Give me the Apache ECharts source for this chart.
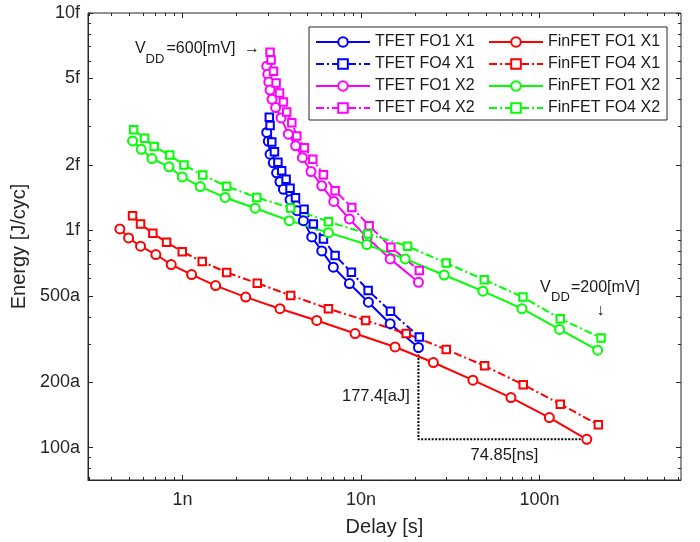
<!DOCTYPE html>
<html>
<head>
<meta charset="utf-8">
<script src="https://cdn.jsdelivr.net/npm/echarts@6/dist/echarts.min.js"></script>
<style>
    html, body { margin: 0; padding: 0; background: #fff; }
    #chart { width: 700px; height: 542px; }
</style>
</head>
<body>
<div id="chart"></div>
<script>
// delay in ns, energy in fJ per cycle, VDD sweep 600mV -> 200mV
const tfetFo1X1Delay = [2.96, 3.02, 3.09, 3.22, 3.36, 3.51, 3.67, 4.00, 4.38, 4.75, 5.29, 6.02, 6.99, 8.60, 10.99, 14.55, 20.96];
const tfetFo1X1Energy = [2.82, 2.57, 2.24, 2.045, 1.84, 1.673, 1.545, 1.383, 1.231, 1.108, 0.933, 0.804, 0.677, 0.569, 0.467, 0.372, 0.289];

const tfetFo4X1Delay = [3.06, 3.09, 3.16, 3.27, 3.42, 3.59, 3.80, 4.00, 4.29, 4.79, 5.40, 6.15, 7.15, 8.82, 10.95, 14.6, 21.2];
const tfetFo4X1Energy = [3.31, 3.04, 2.55, 2.30, 2.055, 1.88, 1.72, 1.562, 1.413, 1.251, 1.070, 0.913, 0.765, 0.642, 0.529, 0.424, 0.323];

const tfetFo1X2Delay = [2.96, 3.00, 3.04, 3.09, 3.17, 3.32, 3.56, 3.91, 4.30, 4.69, 5.24, 6.02, 7.03, 8.60, 10.8, 14.55, 20.96];
const tfetFo1X2Energy = [5.69, 5.22, 4.81, 4.42, 4.01, 3.67, 3.29, 2.77, 2.45, 2.16, 1.865, 1.603, 1.359, 1.128, 0.926, 0.739, 0.577];

const tfetFo4X2Delay = [3.09, 3.13, 3.23, 3.34, 3.49, 3.67, 3.83, 4.09, 4.36, 4.81, 5.36, 6.15, 7.15, 8.87, 11.09, 14.68, 21.2];
const tfetFo4X2Energy = [6.60, 6.07, 5.40, 4.76, 4.28, 3.89, 3.50, 3.13, 2.72, 2.40, 2.125, 1.80, 1.521, 1.275, 1.051, 0.836, 0.653];

const finFo1X1Delay = [0.445, 0.498, 0.581, 0.708, 0.863, 1.123, 1.53, 2.256, 3.51, 5.64, 9.25, 15.5, 25.4, 42.3, 69.1, 113.4, 183.9];
const finFo1X1Energy = [1.015, 0.923, 0.845, 0.774, 0.696, 0.626, 0.557, 0.493, 0.436, 0.385, 0.335, 0.2906, 0.2465, 0.2045, 0.170, 0.1376, 0.1093];

const finFo4X1Delay = [0.524, 0.581, 0.681, 0.813, 0.995, 1.288, 1.765, 2.62, 4.03, 6.56, 10.6, 17.9, 30.0, 49.2, 81.0, 130.6, 213.4];
const finFo4X1Energy = [1.168, 1.070, 0.969, 0.881, 0.798, 0.718, 0.640, 0.571, 0.502, 0.436, 0.385, 0.335, 0.283, 0.238, 0.195, 0.1586, 0.1275];

const finFo1X2Delay = [0.524, 0.586, 0.673, 0.838, 0.995, 1.255, 1.73, 2.55, 3.96, 6.56, 10.76, 17.65, 29.2, 48.1, 79.7, 129.5, 211.5];
const finFo1X2Energy = [2.58, 2.36, 2.14, 1.96, 1.76, 1.59, 1.417, 1.264, 1.108, 0.976, 0.860, 0.739, 0.623, 0.525, 0.436, 0.350, 0.281];

const finFo4X2Delay = [0.531, 0.612, 0.693, 0.846, 1.017, 1.295, 1.765, 2.60, 4.03, 6.56, 10.9, 18.2, 30.0, 49.0, 80.7, 130.6, 221];
const finFo4X2Energy = [2.90, 2.65, 2.43, 2.22, 2.00, 1.795, 1.595, 1.417, 1.267, 1.096, 0.963, 0.845, 0.707, 0.592, 0.493, 0.392, 0.320];

// dotted guide: TFET end point down to FinFET end point
const guideDelay = [20.96, 20.96, 183.9];
const guideEnergy = [0.289, 0.1093, 0.1093];

const xTicks = [1e-9, 1e-8, 1e-7];
const xTickLabels = ['1n', '10n', '100n'];
const yTicks = [1e-16, 2e-16, 5e-16, 1e-15, 2e-15, 5e-15, 1e-14];
const yTickLabels = ['100a', '200a', '500a', '1f', '2f', '5f', '10f'];

const FONT = 'Liberation Sans, Arial, Helvetica, sans-serif';
const INK = '#262626';
const xMin = 2.95e-10, xMax = 6.2e-7;
const yMin = 7.1e-17, yMax = 1e-14;

// 2..9 per decade, minus the labelled ones
const minorTicks = (lo, hi, major) => {
    const out = [];
    for (let e = -18; e <= -5; e++) {
        for (let m = 2; m <= 9; m++) {
            const v = m * Math.pow(10, e);
            if (v < lo || v > hi) continue;
            if (major.some(t => Math.abs(Math.log10(t / v)) < 1e-6)) continue;
            out.push(v);
        }
    }
    return out;
};

const pickLabel = (ticks, labels) => v => {
    let best = 0;
    ticks.forEach((t, i) => {
        if (Math.abs(Math.log10(t / v)) < Math.abs(Math.log10(ticks[best] / v))) best = i;
    });
    return labels[best];
};

const logAxis = (pos, min, max, ticks, len, labels) => ({
    type: 'log',
    position: pos,
    min: min,
    max: max,
    axisLine: { show: !!labels, onZero: false, lineStyle: { color: INK, width: 1 } },
    axisTick: { show: true, inside: true, length: len, customValues: ticks, lineStyle: { color: INK, width: 1 } },
    axisLabel: labels ? {
        show: true, customValues: ticks, formatter: pickLabel(ticks, labels),
        color: INK, fontFamily: FONT, fontSize: 18
    } : { show: false },
    splitLine: { show: false },
    minorTick: { show: false },
    silent: true
});

const xMinor = minorTicks(xMin, xMax, xTicks);
const yMinor = minorTicks(yMin, yMax, yTicks);

const xMain = logAxis('bottom', xMin, xMax, xTicks, 5, xTickLabels);
xMain.axisLabel.margin = 11;
xMain.name = 'Delay [s]';
xMain.nameLocation = 'middle';
xMain.nameGap = 37;
xMain.nameTextStyle = { color: INK, fontFamily: FONT, fontSize: 20 };

const yMain = logAxis('left', yMin, yMax, yTicks, 5, yTickLabels);
yMain.axisLabel.margin = 8;
yMain.name = 'Energy [J/cyc]';
yMain.nameLocation = 'middle';
yMain.nameGap = 53;
yMain.nameTextStyle = { color: INK, fontFamily: FONT, fontSize: 20 };

const dashDot = [8, 3, 2, 3];

const curve = (name, color, delay, energy, dashed) => ({
    name: name,
    type: 'line',
    data: delay.map((d, i) => [d * 1e-9, energy[i] * 1e-15]),
    symbol: dashed ? 'emptyRect' : 'emptyCircle',
    symbolSize: dashed ? 7.5 : 9,
    lineStyle: { color: color, width: 2, type: dashed ? dashDot : 'solid' },
    itemStyle: { color: color, borderColor: color, borderWidth: 2.2 },
    emphasis: { disabled: true },
    z: 3
});

const names = ['TFET FO1 X1', 'TFET FO4 X1', 'TFET FO1 X2', 'TFET FO4 X2',
    'FinFET FO1 X1', 'FinFET FO4 X1', 'FinFET FO1 X2', 'FinFET FO4 X2'];

const label = (text, x, y, size, align) => ({
    type: 'text', x: x, y: y, silent: true, z: 10,
    style: { text: text, font: size + 'px ' + FONT, fill: '#1a1a1a', align: align || 'left', verticalAlign: 'middle' }
});

const myChart = echarts.init(document.getElementById('chart'));
const option = {
    animation: false,
    backgroundColor: '#fff',
    grid: {
        left: 88, right: 19, top: 13, bottom: 62,
        show: true, borderColor: INK, borderWidth: 1, backgroundColor: '#fff',
        outerBoundsMode: 'none'
    },
    legend: {
        orient: 'vertical',
        left: 309, top: 27, height: 86,
        padding: [6, 7, 3, 6],
        itemGap: 4, itemWidth: 54, itemHeight: 12,
        backgroundColor: '#fff', borderColor: INK, borderWidth: 1,
        textStyle: { fontFamily: FONT, fontSize: 16, color: '#1a1a1a', width: 109, lineHeight: 18 },
        selectedMode: false,
        data: names
    },
    xAxis: [
        xMain,
        logAxis('top', xMin, xMax, xTicks, 5),
        logAxis('bottom', xMin, xMax, xMinor, 3),
        logAxis('top', xMin, xMax, xMinor, 3)
    ],
    yAxis: [
        yMain,
        logAxis('right', yMin, yMax, yTicks, 5),
        logAxis('left', yMin, yMax, yMinor, 3),
        logAxis('right', yMin, yMax, yMinor, 3)
    ],
    series: [
        {
            name: 'guide',
            type: 'line',
            data: guideDelay.map((d, i) => [d * 1e-9, guideEnergy[i] * 1e-15]),
            symbol: 'none',
            lineStyle: { color: '#000', width: 2, type: [2, 1.5] },
            emphasis: { disabled: true },
            z: 1
        },
        curve(names[0], '#0000ff', tfetFo1X1Delay, tfetFo1X1Energy, false),
        curve(names[1], '#0000ff', tfetFo4X1Delay, tfetFo4X1Energy, true),
        curve(names[2], '#ff00ff', tfetFo1X2Delay, tfetFo1X2Energy, false),
        curve(names[3], '#ff00ff', tfetFo4X2Delay, tfetFo4X2Energy, true),
        curve(names[4], '#ff0000', finFo1X1Delay, finFo1X1Energy, false),
        curve(names[5], '#ff0000', finFo4X1Delay, finFo4X1Energy, true),
        curve(names[6], '#00ff00', finFo1X2Delay, finFo1X2Energy, false),
        curve(names[7], '#00ff00', finFo4X2Delay, finFo4X2Energy, true)
    ],
    graphic: [
        label('V', 135, 49, 16),
        label('DD', 145.5, 59, 13),
        label('=600[mV]', 166.5, 49, 16),
        label('\u2192', 244, 49, 16),
        label('V', 540, 287.5, 16),
        label('DD', 551, 297, 13),
        label('=200[mV]', 571, 287.5, 16),
        label('\u2193', 600.5, 311, 16, 'center'),
        label('177.4[aJ]', 342, 396, 16.5),
        label('74.85[ns]', 504.5, 455, 16.5, 'center')
    ]
};

option && myChart.setOption(option);
</script>
</body>
</html>
